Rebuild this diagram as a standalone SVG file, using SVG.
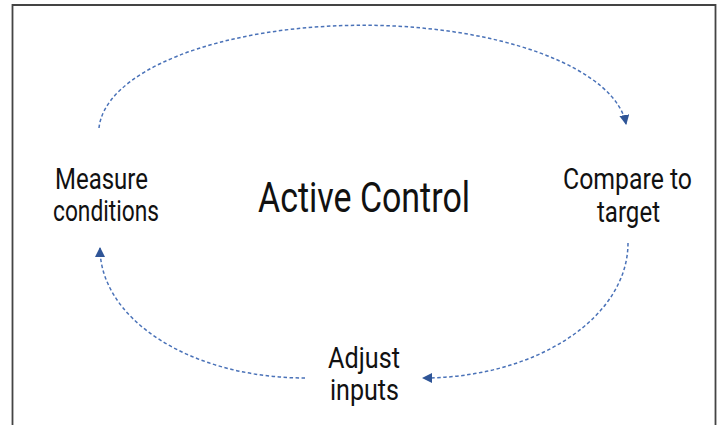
<svg xmlns="http://www.w3.org/2000/svg" width="719" height="425" viewBox="0 0 719 425">
  <style>
    .lbl { font-family: Roboto, "Liberation Sans", sans-serif; font-size: 30px; fill: #111; }
    .title { font-family: Roboto, "Liberation Sans", sans-serif; font-size: 42px; fill: #111; }
    .conn { fill: none; stroke: #4a72b8; stroke-width: 1.5; stroke-dasharray: 3.5 2.5; }
    .frame { fill: none; stroke: #444; stroke-width: 1.8; }
  </style>
  <defs>
    <marker id="ah" viewBox="0 0 10 10" refX="9" refY="5" markerWidth="10" markerHeight="10" markerUnits="userSpaceOnUse" orient="auto">
      <path d="M0,0 L10,5 L0,10 Z" fill="#2f5597"/>
    </marker>
  </defs>
  <rect width="719" height="425" fill="#fff"/>
  <path class="frame" d="M12.5,426 V5 H715.5 V426"/>

  <g id="connectors">
    <path class="conn" d="M99,128 A264,107 0 0 1 626,124" marker-end="url(#ah)"/>
    <path class="conn" d="M628,243 A205,135 0 0 1 423,378" marker-end="url(#ah)"/>
    <path class="conn" d="M305,378 A205,130 0 0 1 100,248" marker-end="url(#ah)"/>
  </g>

  <g id="title">
    <text class="title" x="258" y="212" textLength="212" lengthAdjust="spacingAndGlyphs">Active Control</text>
  </g>
  <g id="measure">
    <text class="lbl" x="55" y="189" textLength="93" lengthAdjust="spacingAndGlyphs">Measure</text>
    <text class="lbl" x="53" y="221" textLength="106" lengthAdjust="spacingAndGlyphs">conditions</text>
  </g>
  <g id="compare">
    <text class="lbl" x="563" y="189" textLength="129" lengthAdjust="spacingAndGlyphs">Compare to</text>
    <text class="lbl" x="597" y="222" textLength="63" lengthAdjust="spacingAndGlyphs">target</text>
  </g>
  <g id="adjust">
    <text class="lbl" x="328" y="368" textLength="72" lengthAdjust="spacingAndGlyphs">Adjust</text>
    <text class="lbl" x="330" y="400" textLength="69" lengthAdjust="spacingAndGlyphs">inputs</text>
  </g>
</svg>
